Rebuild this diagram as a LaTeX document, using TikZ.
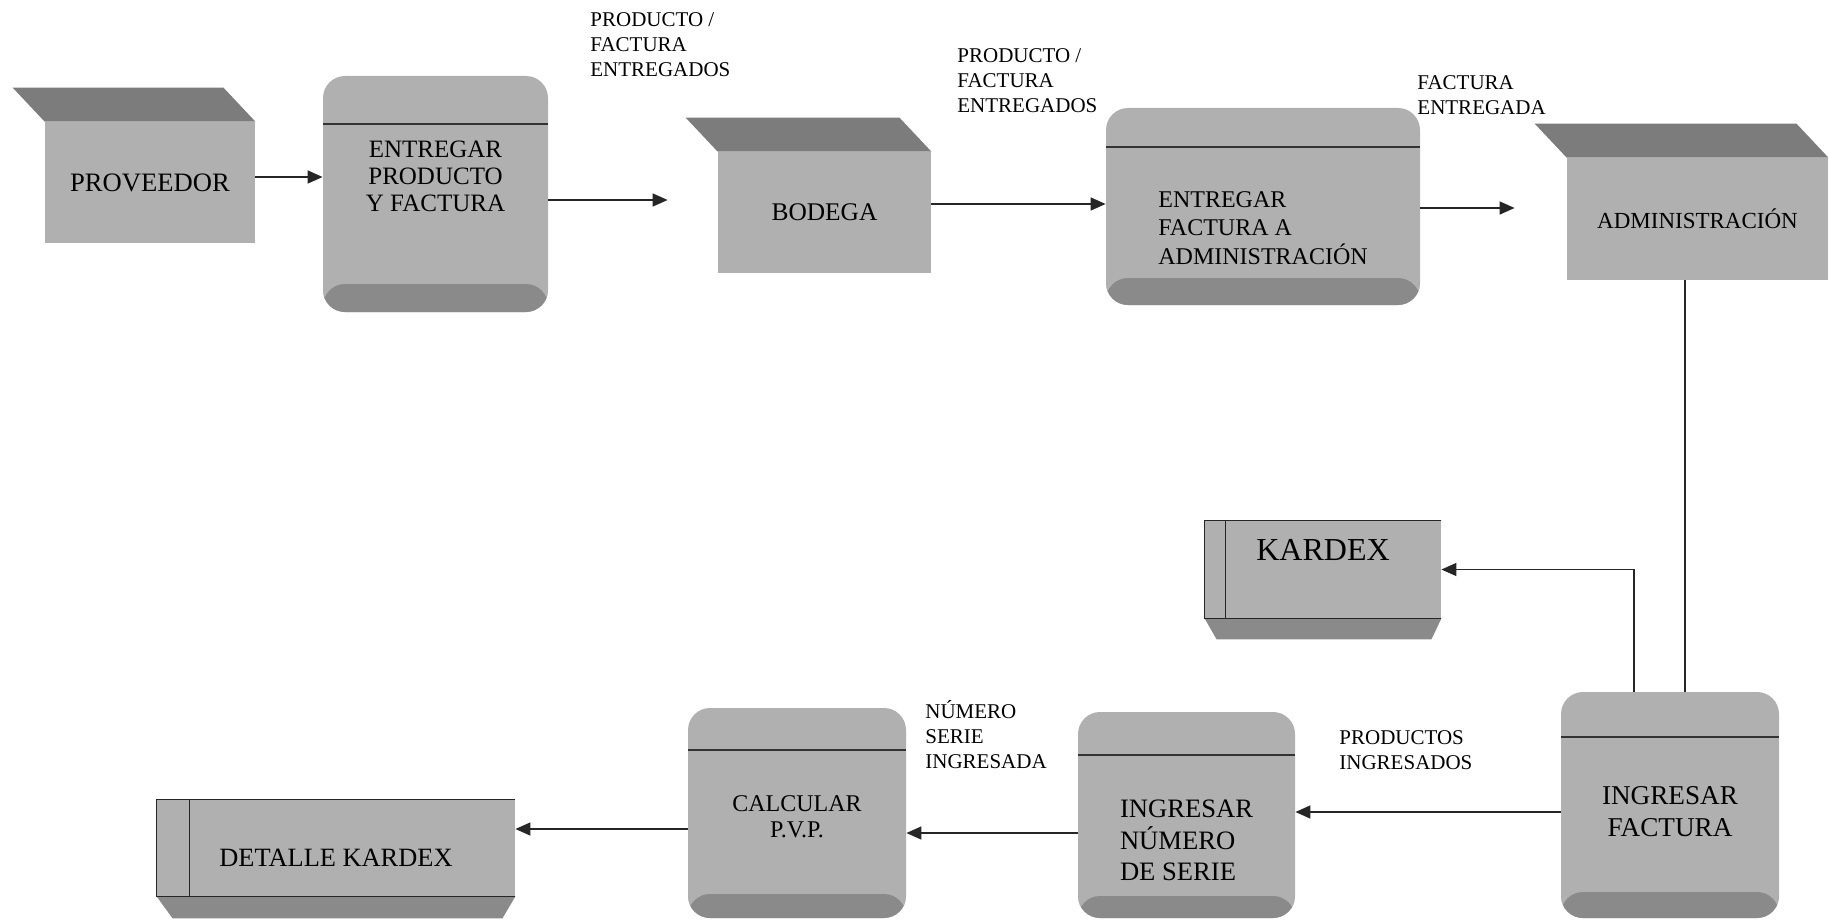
\documentclass[tikz,border=0pt]{standalone}
\usepackage{fontspec}
\setmainfont{Liberation Serif}
\usetikzlibrary{arrows.meta,calc}
\definecolor{face}{RGB}{176,176,176}
\definecolor{topface}{RGB}{124,124,124}
\definecolor{bandgray}{RGB}{138,138,138}
\newcommand{\boxtext}[3]{\raisebox{#1}[\height][\depth]{\begin{tabular}{@{}#2@{}}#3\end{tabular}}}
\tikzset{
  procbox/.style n args={2}{rectangle, rounded corners=11pt, fill=face, inner sep=0pt,
    path picture={
      \fill[bandgray] (path picture bounding box.south west) rectangle ([yshift=#2]path picture bounding box.south east);
      \draw[line width=1pt, black!80] ([yshift=-#1]path picture bounding box.north west) -- ([yshift=-#1]path picture bounding box.north east);
    }},
  entity/.style={rectangle, fill=face, inner sep=0pt},
  store/.style={rectangle, fill=face, inner sep=0pt},
  lbl/.style={anchor=west, align=left, inner sep=0pt, font=\fontsize{10.5}{12.5}\selectfont},
  flow/.style={draw=black!85, line width=0.75pt, -{Triangle[length=7.5pt,width=6.5pt]}},
  plain/.style={draw=black!85, line width=0.75pt},
  edge3d/.style={draw=black!85, line width=0.8pt}
}
\begin{document}
\begin{tikzpicture}[x=0.5pt,y=-0.5pt]
\useasboundingbox (0,0) rectangle (1829,920);

% external entities
\node[entity, minimum width=105pt, minimum height=60.5pt, font=\fontsize{13.3}{16}\selectfont] (prov) at (150,182.5) {PROVEEDOR};
\node[entity, minimum width=106.5pt, minimum height=60.5pt, font=\fontsize{12.7}{15}\selectfont] (bod) at (824.5,212.5) {BODEGA};
\node[entity, minimum width=130.5pt, minimum height=61pt, font=\fontsize{11.5}{14}\selectfont] (adm) at (1697.5,219) {ADMINISTRACIÓN};
\foreach \e in {prov,bod,adm}{
  \fill[topface] (\e.north west) -- (\e.north east) -- ++(-32,-34) -- ($(\e.north west)+(-32,-34)$) -- cycle;
}

% processes
\node[procbox={24pt}{14pt}, minimum width=112.5pt, minimum height=118pt, font=\fontsize{12.5}{13.5}\selectfont] (p1) at (435.5,194)
  {\boxtext{7.5pt}{c}{ENTREGAR\\PRODUCTO\\Y FACTURA}};
\node[procbox={19.5pt}{13.5pt}, minimum width=157pt, minimum height=98.5pt, font=\fontsize{12}{14}\selectfont] (p2) at (1263,206.5)
  {\boxtext{-12pt}{l}{ENTREGAR\\FACTURA A\\ADMINISTRACIÓN}};
\node[procbox={22.5pt}{13pt}, minimum width=109pt, minimum height=113pt, font=\fontsize{13.6}{16}\selectfont] (if) at (1670,805)
  {\boxtext{-4.5pt}{c}{INGRESAR\\FACTURA}};
\node[procbox={21.5pt}{11pt}, minimum width=108.5pt, minimum height=103pt, font=\fontsize{13.3}{15.5}\selectfont] (in) at (1186.5,815)
  {\boxtext{-14pt}{l}{INGRESAR\\NÚMERO\\DE SERIE}};
\node[procbox={21pt}{12pt}, minimum width=109pt, minimum height=105pt, font=\fontsize{12}{13}\selectfont] (ca) at (797,813)
  {\boxtext{-3pt}{c}{CALCULAR\\P.V.P.}};

% data stores
\node[store, minimum width=118pt, minimum height=48.5pt, font=\fontsize{16}{18}\selectfont] (kar) at (1323,569.5)
  {\boxtext{8pt}{c}{KARDEX}};
\node[store, minimum width=179pt, minimum height=48pt, font=\fontsize{13.2}{15}\selectfont] (det) at (336,848)
  {\boxtext{-6pt}{c}{DETALLE KARDEX}};
\fill[bandgray] (kar.south west) -- (kar.south east) -- ++(-10,21) -- ($(kar.south west)+(12,21)$) -- cycle;
\draw[edge3d] (kar.north east) -- (kar.north west) -- (kar.south west) -- (kar.south east);
\draw[edge3d] ([xshift=10.5pt]kar.north west) -- ([xshift=10.5pt]kar.south west);
\fill[bandgray] (det.south west) -- (det.south east) -- ++(-13,22) -- ($(det.south west)+(16,22)$) -- cycle;
\draw[edge3d] (det.north east) -- (det.north west) -- (det.south west) -- (det.south east);
\draw[edge3d] ([xshift=16.5pt]det.north west) -- ([xshift=16.5pt]det.south west);

% free ends
\coordinate (bodin) at ([xshift=-25pt]bod.west);
\coordinate (admin) at ([xshift=-26pt]adm.west);

% connectors
\draw[flow] ([yshift=2.75pt]prov.east) -- ([yshift=2.75pt]prov.east -| p1.west);
\draw[flow] ([yshift=-3pt]p1.east) -- ([yshift=-3pt]p1.east -| bodin);
\draw[flow] ([yshift=4.25pt]bod.east) -- ([yshift=4.25pt]bod.east -| p2.west);
\draw[flow] ([yshift=-0.75pt]p2.east) -- ([yshift=-0.75pt]p2.east -| admin);
\draw[plain] ([xshift=-6.25pt]adm.south) -- ([xshift=-6.25pt]adm.south |- if.north);
\draw[flow] ([xshift=-18pt]if.north) |- (kar.east);
\draw[flow] ([yshift=-3.5pt]if.west) -- ([yshift=-3.5pt]if.west -| in.east);
\draw[flow] ([yshift=-9pt]in.west) -- ([yshift=-9pt]in.west -| ca.east);
\draw[flow] ([yshift=-8pt]ca.west) -- ([yshift=-8pt]ca.west -| det.east);

% flow labels
\node[lbl] (l1) at (590,45) {PRODUCTO /\\FACTURA\\ENTREGADOS};
\node[lbl] (l2) at (957,80.5) {PRODUCTO /\\FACTURA\\ENTREGADOS};
\node[lbl] (l3) at (1417,95.5) {FACTURA\\ENTREGADA};
\node[lbl] (l4) at (1339,750.5) {PRODUCTOS\\INGRESADOS};
\node[lbl] (l5) at (925,735) {NÚMERO\\SERIE\\INGRESADA};
\end{tikzpicture}
\end{document}
